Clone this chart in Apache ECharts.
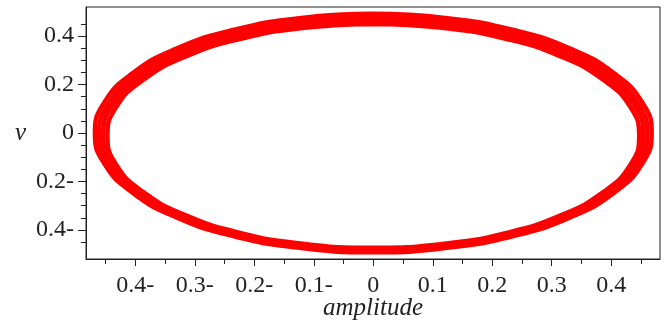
<!DOCTYPE html>
<html>
<head>
<meta charset="utf-8">
<script src="https://cdn.jsdelivr.net/npm/echarts@6/dist/echarts.min.js"></script>
<style>
  html, body { margin: 0; padding: 0; background: #fff; }
  #chart { width: 669px; height: 322px; }
</style>
</head>
<body>
<div id="chart"></div>
<script>
// phase portrait: amplitude vs v, several close loops of the orbit (each starts at the top)
var loop1 = [[0,0.492],[-0.121,0.475],[-0.234,0.426],[-0.331,0.348],[-0.405,0.246],[-0.452,0.127],[-0.468,0],
  [-0.452,-0.127],[-0.405,-0.246],[-0.331,-0.348],[-0.234,-0.426],[-0.121,-0.475],[0,-0.492],
  [0.121,-0.475],[0.234,-0.426],[0.331,-0.348],[0.405,-0.246],[0.452,-0.127],[0.468,0],
  [0.452,0.127],[0.405,0.246],[0.331,0.348],[0.234,0.426],[0.121,0.475],[0,0.492]];
var loop2 = [[0,0.478],[-0.119,0.462],[-0.231,0.413],[-0.326,0.337],[-0.399,0.237],[-0.445,0.121],[-0.461,-0.004],
  [-0.445,-0.129],[-0.399,-0.245],[-0.326,-0.345],[-0.231,-0.421],[-0.119,-0.470],[0,-0.486],
  [0.119,-0.470],[0.231,-0.421],[0.326,-0.345],[0.399,-0.245],[0.445,-0.129],[0.461,-0.004],
  [0.445,0.121],[0.399,0.237],[0.326,0.337],[0.231,0.413],[0.119,0.462],[0,0.478]];
var loop3 = [[0,0.464],[-0.118,0.448],[-0.227,0.401],[-0.321,0.326],[-0.393,0.228],[-0.439,0.114],[-0.454,-0.008],
  [-0.439,-0.130],[-0.393,-0.244],[-0.321,-0.342],[-0.227,-0.417],[-0.118,-0.464],[0,-0.480],
  [0.118,-0.464],[0.227,-0.417],[0.321,-0.342],[0.393,-0.244],[0.439,-0.130],[0.454,-0.008],
  [0.439,0.114],[0.393,0.228],[0.321,0.326],[0.227,0.401],[0.118,0.448],[0,0.464]];
var loop4 = [[0,0.450],[-0.116,0.434],[-0.224,0.388],[-0.316,0.315],[-0.387,0.219],[-0.432,0.108],[-0.447,-0.012],
  [-0.432,-0.132],[-0.387,-0.243],[-0.316,-0.339],[-0.224,-0.412],[-0.116,-0.458],[0,-0.474],
  [0.116,-0.458],[0.224,-0.412],[0.316,-0.339],[0.387,-0.243],[0.432,-0.132],[0.447,-0.012],
  [0.432,0.108],[0.387,0.219],[0.316,0.315],[0.224,0.388],[0.116,0.434],[0,0.450]];

var xTicks = [-0.4, -0.3, -0.2, -0.1, 0, 0.1, 0.2, 0.3, 0.4];
var xTickLabels = ['0.4-', '0.3-', '0.2-', '0.1-', '0', '0.1', '0.2', '0.3', '0.4'];
var xMinorTicks = [-0.45, -0.35, -0.25, -0.15, -0.05, 0.05, 0.15, 0.25, 0.35, 0.45];
var yTicks = [-0.4, -0.2, 0, 0.2, 0.4];
var yTickLabels = ['0.4-', '0.2-', '0', '0.2', '0.4'];
var yMinorTicks = [-0.45, -0.35, -0.3, -0.25, -0.15, -0.1, -0.05, 0.05, 0.1, 0.15, 0.25, 0.3, 0.35, 0.45];

var xMin = -0.483, xMax = 0.482;
var yMin = -0.52, yMax = 0.52;

var loops = [loop1, loop2, loop3, loop4];

var chart = echarts.init(document.getElementById('chart'));
var ink = '#222';
var labelFont = { fontFamily: 'Liberation Serif', fontSize: 24, color: ink };
var nameFont = { fontFamily: 'Liberation Serif', fontStyle: 'italic', fontSize: 25, color: ink };

function labelFor(ticks, labels) {
    return function (val) {
        for (var i = 0; i < ticks.length; i++) {
            if (Math.abs(ticks[i] - val) < 1e-6) return labels[i];
        }
        return '';
    };
}

var option = {
    animation: false,
    grid: {
        left: 86, right: 9, top: 7, bottom: 63,
        outerBoundsMode: 'none',
        show: true, borderColor: ink, borderWidth: 1
    },
    xAxis: [
        {
            type: 'value', min: xMin, max: xMax, position: 'bottom',
            splitLine: { show: false },
            axisLine: { show: true, onZero: false, lineStyle: { color: ink } },
            axisTick: { show: true, customValues: xTicks, length: 7, lineStyle: { color: ink } },
            axisLabel: Object.assign({ customValues: xTicks, margin: 15,
                formatter: labelFor(xTicks, xTickLabels) }, labelFont),
            name: 'amplitude', nameLocation: 'middle', nameGap: 37, nameMoveOverlap: false,
            nameTextStyle: nameFont
        },
        {
            type: 'value', min: xMin, max: xMax, position: 'bottom',
            splitLine: { show: false },
            axisLine: { show: false, onZero: false },
            axisTick: { show: true, customValues: xMinorTicks, length: 5, lineStyle: { color: ink } },
            axisLabel: { show: false }
        }
    ],
    yAxis: [
        {
            type: 'value', min: yMin, max: yMax, position: 'left',
            splitLine: { show: false },
            axisLine: { show: true, onZero: false, lineStyle: { color: ink } },
            axisTick: { show: true, customValues: yTicks, length: 8, lineStyle: { color: ink } },
            axisLabel: Object.assign({ customValues: yTicks, margin: 12,
                formatter: labelFor(yTicks, yTickLabels) }, labelFont),
            name: 'v', nameLocation: 'middle', nameRotate: 0, nameGap: 60, nameMoveOverlap: false,
            nameTextStyle: nameFont
        },
        {
            type: 'value', min: yMin, max: yMax, position: 'left',
            splitLine: { show: false },
            axisLine: { show: false, onZero: false },
            axisTick: { show: true, customValues: yMinorTicks, length: 5, lineStyle: { color: ink } },
            axisLabel: { show: false }
        }
    ],
    series: loops.map(function (loop) {
        return {
            type: 'line',
            data: loop,
            smooth: true,
            showSymbol: false,
            lineStyle: { color: '#ff0000', width: 4.5 }
        };
    })
};

chart.setOption(option);
</script>
</body>
</html>
